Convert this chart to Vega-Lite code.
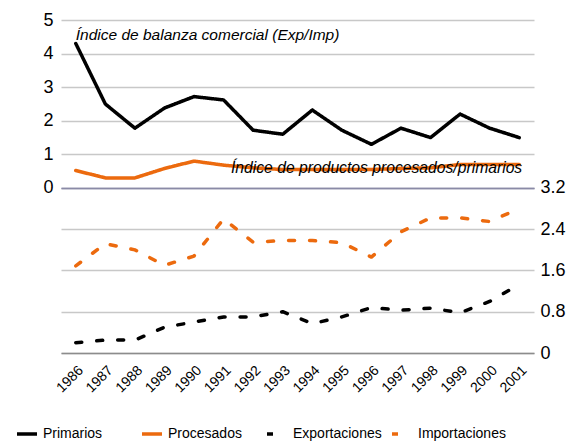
{
  "$schema": "https://vega.github.io/schema/vega-lite/v6.json",
  "width": 473,
  "height": 333,
  "padding": {"left": 15, "top": 11, "right": 5, "bottom": 3},
  "config": {
    "view": {"stroke": null},
    "font": "Liberation Sans",
    "axis": {"labelFont": "Liberation Sans", "labelColor": "#000000"},
    "text": {"font": "Liberation Sans"}
  },
  "datasets": {
    "series": [
      {"year": "1986", "serie": "Primarios", "value": 4.3},
      {"year": "1987", "serie": "Primarios", "value": 2.5},
      {"year": "1988", "serie": "Primarios", "value": 1.78},
      {"year": "1989", "serie": "Primarios", "value": 2.38},
      {"year": "1990", "serie": "Primarios", "value": 2.72},
      {"year": "1991", "serie": "Primarios", "value": 2.62},
      {"year": "1992", "serie": "Primarios", "value": 1.72},
      {"year": "1993", "serie": "Primarios", "value": 1.6},
      {"year": "1994", "serie": "Primarios", "value": 2.32},
      {"year": "1995", "serie": "Primarios", "value": 1.72},
      {"year": "1996", "serie": "Primarios", "value": 1.3},
      {"year": "1997", "serie": "Primarios", "value": 1.78},
      {"year": "1998", "serie": "Primarios", "value": 1.5},
      {"year": "1999", "serie": "Primarios", "value": 2.2},
      {"year": "2000", "serie": "Primarios", "value": 1.78},
      {"year": "2001", "serie": "Primarios", "value": 1.5},
      {"year": "1986", "serie": "Procesados", "value": 0.52},
      {"year": "1987", "serie": "Procesados", "value": 0.3},
      {"year": "1988", "serie": "Procesados", "value": 0.3},
      {"year": "1989", "serie": "Procesados", "value": 0.58},
      {"year": "1990", "serie": "Procesados", "value": 0.8},
      {"year": "1991", "serie": "Procesados", "value": 0.68},
      {"year": "1992", "serie": "Procesados", "value": 0.6},
      {"year": "1993", "serie": "Procesados", "value": 0.55},
      {"year": "1994", "serie": "Procesados", "value": 0.55},
      {"year": "1995", "serie": "Procesados", "value": 0.55},
      {"year": "1996", "serie": "Procesados", "value": 0.55},
      {"year": "1997", "serie": "Procesados", "value": 0.58},
      {"year": "1998", "serie": "Procesados", "value": 0.6},
      {"year": "1999", "serie": "Procesados", "value": 0.7},
      {"year": "2000", "serie": "Procesados", "value": 0.7},
      {"year": "2001", "serie": "Procesados", "value": 0.7},
      {"year": "1986", "serie": "Exportaciones", "value": 0.2},
      {"year": "1987", "serie": "Exportaciones", "value": 0.25},
      {"year": "1988", "serie": "Exportaciones", "value": 0.25},
      {"year": "1989", "serie": "Exportaciones", "value": 0.5},
      {"year": "1990", "serie": "Exportaciones", "value": 0.6},
      {"year": "1991", "serie": "Exportaciones", "value": 0.7},
      {"year": "1992", "serie": "Exportaciones", "value": 0.7},
      {"year": "1993", "serie": "Exportaciones", "value": 0.8},
      {"year": "1994", "serie": "Exportaciones", "value": 0.57},
      {"year": "1995", "serie": "Exportaciones", "value": 0.7},
      {"year": "1996", "serie": "Exportaciones", "value": 0.88},
      {"year": "1997", "serie": "Exportaciones", "value": 0.83},
      {"year": "1998", "serie": "Exportaciones", "value": 0.87},
      {"year": "1999", "serie": "Exportaciones", "value": 0.78},
      {"year": "2000", "serie": "Exportaciones", "value": 1.0},
      {"year": "2001", "serie": "Exportaciones", "value": 1.33},
      {"year": "1986", "serie": "Importaciones", "value": 1.69},
      {"year": "1987", "serie": "Importaciones", "value": 2.12},
      {"year": "1988", "serie": "Importaciones", "value": 2.0},
      {"year": "1989", "serie": "Importaciones", "value": 1.7},
      {"year": "1990", "serie": "Importaciones", "value": 1.88},
      {"year": "1991", "serie": "Importaciones", "value": 2.6},
      {"year": "1992", "serie": "Importaciones", "value": 2.15},
      {"year": "1993", "serie": "Importaciones", "value": 2.18},
      {"year": "1994", "serie": "Importaciones", "value": 2.18},
      {"year": "1995", "serie": "Importaciones", "value": 2.14},
      {"year": "1996", "serie": "Importaciones", "value": 1.86},
      {"year": "1997", "serie": "Importaciones", "value": 2.35},
      {"year": "1998", "serie": "Importaciones", "value": 2.62},
      {"year": "1999", "serie": "Importaciones", "value": 2.62},
      {"year": "2000", "serie": "Importaciones", "value": 2.55},
      {"year": "2001", "serie": "Importaciones", "value": 2.8}
    ]
  },
  "encoding": {
    "x": {
      "field": "year",
      "type": "ordinal",
      "scale": {"type": "point", "padding": 0.5},
      "axis": {
        "title": null,
        "labelAngle": -45,
        "labelFontSize": 14,
        "ticks": false,
        "domain": true,
        "domainColor": "#8c8c8c",
        "domainWidth": 1.5,
        "labelPadding": 10,
        "grid": false
      }
    }
  },
  "layer": [
    {
      "encoding": {
        "y": {
          "field": "value",
          "type": "quantitative",
          "scale": {"domain": [-4.911, 5], "nice": false, "zero": false},
          "axis": {
            "orient": "left",
            "values": [0, 1, 2, 3, 4, 5],
            "title": null,
            "grid": true,
            "ticks": false,
            "domain": false,
            "labelFontSize": 18,
            "labelPadding": 8,
            "gridWidth": 1.5,
            "gridColor": {"condition": {"test": "datum.value === 0", "value": "#8a8aa6"}, "value": "#c8c8c8"}
          }
        }
      },
      "layer": [
        {
          "data": {"name": "series"},
          "transform": [{"filter": {"field": "serie", "oneOf": ["Primarios", "Procesados"]}}],
          "mark": {"type": "line", "strokeWidth": 3.5, "strokeCap": "round", "strokeJoin": "round"},
          "encoding": {
            "color": {
              "field": "serie",
              "type": "nominal",
              "scale": {"domain": ["Primarios", "Procesados", "Exportaciones", "Importaciones"], "range": ["#000000", "#EC6A0E", "#000000", "#EC6A0E"]},
              "legend": {
                "title": null,
                "orient": "none",
                "legendX": -46,
                "legendY": 402,
                "direction": "horizontal",
                "columns": 4,
                "gridAlign": "all",
                "symbolType": "stroke",
                "symbolStrokeWidth": 3.5,
                "symbolSize": 400,
                "labelFontSize": 14,
                "labelFont": "Liberation Sans",
                "labelColor": "#000000",
                "columnPadding": 3,
                "labelOffset": 4,
                "labelLimit": 300
              }
            },
            "strokeDash": {
              "field": "serie",
              "type": "nominal",
              "scale": {"domain": ["Primarios", "Procesados", "Exportaciones", "Importaciones"], "range": [[1, 0], [1, 0], [6, 15], [6, 15]]},
              "legend": {
                "title": null,
                "orient": "none",
                "legendX": -46,
                "legendY": 402,
                "direction": "horizontal",
                "columns": 4,
                "gridAlign": "all",
                "symbolType": "stroke",
                "symbolStrokeWidth": 3.5,
                "symbolSize": 400,
                "labelFontSize": 14,
                "labelFont": "Liberation Sans",
                "labelColor": "#000000",
                "columnPadding": 3,
                "labelOffset": 4,
                "labelLimit": 300
              }
            }
          }
        },
        {
          "data": {"values": [{"year": "1986", "value": 4.55, "label": "Índice de balanza comercial (Exp/Imp)"}]},
          "mark": {"type": "text", "align": "left", "baseline": "middle", "dx": 0, "fontSize": 15.5, "fontStyle": "italic", "color": "#000000"},
          "encoding": {"text": {"field": "label"}}
        },
        {
          "data": {"values": [{"year": "2001", "value": 0.6, "label": "Índice de productos procesados/primarios"}]},
          "mark": {"type": "text", "align": "right", "baseline": "middle", "dx": 3, "fontSize": 15.7, "fontStyle": "italic", "color": "#000000"},
          "encoding": {"text": {"field": "label"}}
        }
      ]
    },
    {
      "data": {"name": "series"},
      "transform": [{"filter": {"field": "serie", "oneOf": ["Exportaciones", "Importaciones"]}}],
      "mark": {"type": "line", "strokeWidth": 3.5, "strokeCap": "round", "strokeJoin": "round"},
      "encoding": {
        "y": {
          "field": "value",
          "type": "quantitative",
          "scale": {"domain": [0, 6.458], "nice": false, "zero": false},
          "axis": {
            "orient": "right",
            "values": [0, 0.8, 1.6, 2.4, 3.2],
            "format": ".1~f",
            "title": null,
            "grid": true,
            "ticks": false,
            "domain": false,
            "labelFontSize": 18,
            "labelPadding": 6,
            "gridWidth": 1.5,
            "gridColor": {"condition": {"test": "datum.value === 3.2", "value": "#8a8aa6"}, "value": "#c8c8c8"}
          }
        },
        "color": {"field": "serie", "type": "nominal"},
        "strokeDash": {"field": "serie", "type": "nominal"}
      }
    }
  ],
  "resolve": {"scale": {"y": "independent"}, "axis": {"y": "independent"}}
}
